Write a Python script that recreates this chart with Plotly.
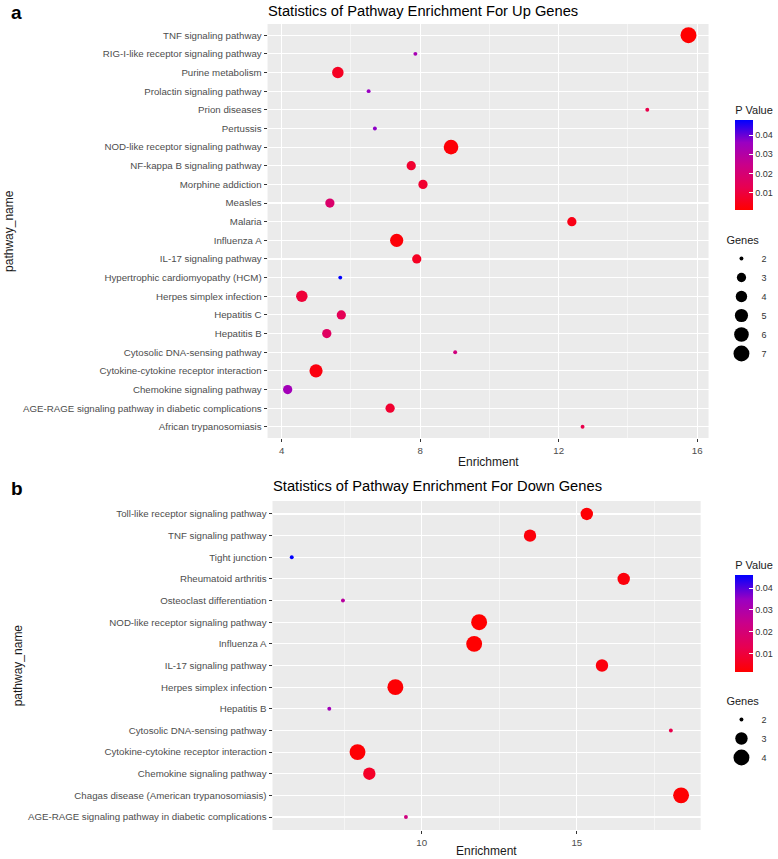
import numpy as np
import plotly.graph_objects as go

# Panel a : voies enrichies pour les gènes surexprimés (de haut en bas)
up_pathways = [
    "TNF signaling pathway", "RIG-I-like receptor signaling pathway",
    "Purine metabolism", "Prolactin signaling pathway", "Prion diseases",
    "Pertussis", "NOD-like receptor signaling pathway",
    "NF-kappa B signaling pathway", "Morphine addiction", "Measles",
    "Malaria", "Influenza A", "IL-17 signaling pathway",
    "Hypertrophic cardiomyopathy (HCM)", "Herpes simplex infection",
    "Hepatitis C", "Hepatitis B", "Cytosolic DNA-sensing pathway",
    "Cytokine-cytokine receptor interaction", "Chemokine signaling pathway",
    "AGE-RAGE signaling pathway in diabetic complications",
    "African trypanosomiasis",
]
up_enrichment = [15.75, 7.86, 5.62, 6.51, 14.56, 6.69, 8.89, 7.74, 8.08, 5.39,
                 12.38, 7.32, 7.90, 5.69, 4.58, 5.72, 5.30, 9.01, 4.99, 4.17,
                 7.13, 12.69]
up_genes = [7, 2, 4, 2, 2, 2, 6, 3, 3, 3, 3, 5, 3, 2, 4, 3, 3, 2, 5, 3, 3, 2]
up_pvalue = [0.001, 0.033, 0.006, 0.036, 0.012, 0.037, 0.002, 0.008, 0.008,
             0.018, 0.004, 0.002, 0.006, 0.0478, 0.009, 0.014, 0.016, 0.022,
             0.003, 0.034, 0.008, 0.012]

# Panel b : gènes sous-exprimés
down_pathways = [
    "Toll-like receptor signaling pathway", "TNF signaling pathway",
    "Tight junction", "Rheumatoid arthritis", "Osteoclast differentiation",
    "NOD-like receptor signaling pathway", "Influenza A",
    "IL-17 signaling pathway", "Herpes simplex infection", "Hepatitis B",
    "Cytosolic DNA-sensing pathway", "Cytokine-cytokine receptor interaction",
    "Chemokine signaling pathway", "Chagas disease (American trypanosomiasis)",
    "AGE-RAGE signaling pathway in diabetic complications",
]
down_enrichment = [15.32, 13.49, 5.81, 16.51, 7.46, 11.85, 11.69, 15.81, 9.15,
                   7.02, 18.03, 7.93, 8.31, 18.36, 9.49]
down_genes = [3, 3, 2, 3, 2, 4, 4, 3, 4, 2, 2, 4, 3, 4, 2]
down_pvalue = [0.002, 0.003, 0.046, 0.003, 0.028, 0.0015, 0.0016, 0.003, 0.002,
               0.033, 0.012, 0.002, 0.007, 0.0018, 0.022]

up_legend_genes = [2, 3, 4, 5, 6, 7]
down_legend_genes = [2, 3, 4]

W, H = 778, 859
FONT = "Liberation Sans, Arial, Helvetica, sans-serif"
BG = "#EBEBEB"

# dégradé rouge -> bleu interpolé en Lab (comme ggplot)
COLORSCALE = [[0, "#FF0000"], [0.25, "#E80050"], [0.5, "#CA0089"],
              [0.75, "#9A00C2"], [1, "#0000FF"]]


def px_x(p):
    return p / W


def px_y(p):
    return 1 - p / H


def taille(genes, gmin, gmax):
    r = (np.asarray(genes, float) - gmin) / (gmax - gmin)
    return 1.5 + 2.4 * (1 + 5 * np.sqrt(r))


fig = go.Figure()

panels = [
    dict(path=up_pathways, x=up_enrichment, g=up_genes, p=up_pvalue,
         leg=up_legend_genes, xa="x", ya="y", ca="coloraxis", lg="legend"),
    dict(path=down_pathways, x=down_enrichment, g=down_genes, p=down_pvalue,
         leg=down_legend_genes, xa="x2", ya="y2", ca="coloraxis2", lg="legend2"),
]

for pan in panels:
    gmin, gmax = min(pan["g"]), max(pan["g"])
    fig.add_trace(go.Scatter(
        x=pan["x"], y=pan["path"], mode="markers",
        xaxis=pan["xa"], yaxis=pan["ya"], showlegend=False,
        marker=dict(size=taille(pan["g"], gmin, gmax), color=pan["p"],
                    coloraxis=pan["ca"], opacity=1, line=dict(width=0)),
        hovertemplate="%{y}<br>Enrichment=%{x}<extra></extra>"))
    for i, g in enumerate(pan["leg"]):
        fig.add_trace(go.Scatter(
            x=[None], y=[None], mode="markers", name=str(g),
            xaxis=pan["xa"], yaxis=pan["ya"], legend=pan["lg"],
            marker=dict(size=float(taille([g], gmin, gmax)[0]), color="black",
                        opacity=1),
            showlegend=True,
            legendgroup=pan["lg"],
            legendgrouptitle_text="Genes" if i == 0 else None))

axe_y = dict(type="category", showgrid=True, gridcolor="white", gridwidth=1.1,
             ticks="outside", ticklen=3, tickwidth=1, tickcolor="#333333",
             tickfont=dict(size=9.7, color="#4D4D4D"), zeroline=False,
             showline=False)
axe_x = dict(showgrid=True, gridcolor="white", gridwidth=1.1, zeroline=False,
             ticks="outside", ticklen=3, tickwidth=1, tickcolor="#333333",
             tickfont=dict(size=9.7, color="#4D4D4D"), showline=False)


def barre(cmin, cmax, bas, haut):
    # la barre se place ~8 px à gauche de x : on compense
    return dict(
        colorscale=COLORSCALE, cmin=cmin, cmax=cmax,
        colorbar=dict(x=px_x(742), xanchor="left", xpad=0, ypad=0,
                      y=px_y(bas), yanchor="bottom", len=(bas - haut) / H,
                      thickness=18, outlinewidth=0, ticks="inside",
                      tickcolor="white", ticklen=4,
                      tickvals=[0.01, 0.02, 0.03, 0.04],
                      tickfont=dict(size=9, color="#333333"),
                      title=dict(text="P Value", side="top",
                                 font=dict(size=11, color="#1A1A1A"))))


def legende(y):
    return dict(x=px_x(728), xanchor="left", y=px_y(y), yanchor="top",
                itemsizing="trace", itemwidth=30, bgcolor="rgba(0,0,0,0)",
                font=dict(size=9, color="#333333"),
                grouptitlefont=dict(size=11, color="#1A1A1A"))


fig.update_layout(
    width=W, height=H,
    margin=dict(l=0, r=0, t=0, b=0),
    paper_bgcolor="white", plot_bgcolor=BG,
    font=dict(family=FONT, color="#1A1A1A"),
    xaxis=dict(axe_x, domain=[px_x(270), px_x(715)], anchor="y",
               range=[3.59, 16.33], tick0=4, dtick=4,
               minor=dict(tick0=4, dtick=2, showgrid=True, gridcolor="white",
                          gridwidth=0.5, ticklen=0)),
    yaxis=dict(axe_y, domain=[px_y(438), px_y(24)], anchor="x",
               categoryorder="array", categoryarray=up_pathways[::-1],
               range=[-0.6, len(up_pathways) - 0.4]),
    xaxis2=dict(axe_x, domain=[px_x(275), px_x(707)], anchor="y2",
                range=[5.19, 18.99], tick0=0, dtick=5,
                minor=dict(tick0=0, dtick=2.5, showgrid=True,
                           gridcolor="white", gridwidth=0.5, ticklen=0)),
    yaxis2=dict(axe_y, domain=[px_y(830), px_y(501)], anchor="x2",
                categoryorder="array", categoryarray=down_pathways[::-1],
                range=[-0.6, len(down_pathways) - 0.4]),
    coloraxis=barre(min(up_pvalue), max(up_pvalue), 210, 103),
    coloraxis2=barre(min(down_pvalue), max(down_pvalue), 672, 558),
    legend=legende(225),
    legend2=legende(686),
)

annots = [
    dict(text="<b>a</b>", x=10, y=12, size=19),
    dict(text="<b>b</b>", x=10, y=488, size=19),
    dict(text="Statistics of Pathway Enrichment For Up Genes",
         x=269, y=10.5, size=14.7),
    dict(text="Statistics of Pathway Enrichment For Down Genes",
         x=274, y=486, size=14.7),
]
for a in annots:
    fig.add_annotation(text=a["text"], x=px_x(a["x"]), y=px_y(a["y"]),
                       xref="paper", yref="paper", xanchor="left",
                       yanchor="middle", showarrow=False, borderpad=0,
                       font=dict(size=a["size"], color="black"))

for texte, x, y in [("Enrichment", 492.5, 462), ("Enrichment", 491, 851)]:
    fig.add_annotation(text=texte, x=px_x(x), y=px_y(y), xref="paper",
                       yref="paper", xanchor="center", yanchor="middle",
                       showarrow=False, font=dict(size=12, color="#1A1A1A"))
for x, y in [(9, 231), (18, 665.5)]:
    fig.add_annotation(text="pathway_name", x=px_x(x), y=px_y(y),
                       xref="paper", yref="paper", xanchor="center",
                       yanchor="middle", textangle=-90, showarrow=False,
                       font=dict(size=12, color="#1A1A1A"))

# la page HTML par défaut ajoute 8 px de marge au body
fig.write_html("out.html", config={"staticPlot": True},
               post_script="document.body.style.margin = '0';")
